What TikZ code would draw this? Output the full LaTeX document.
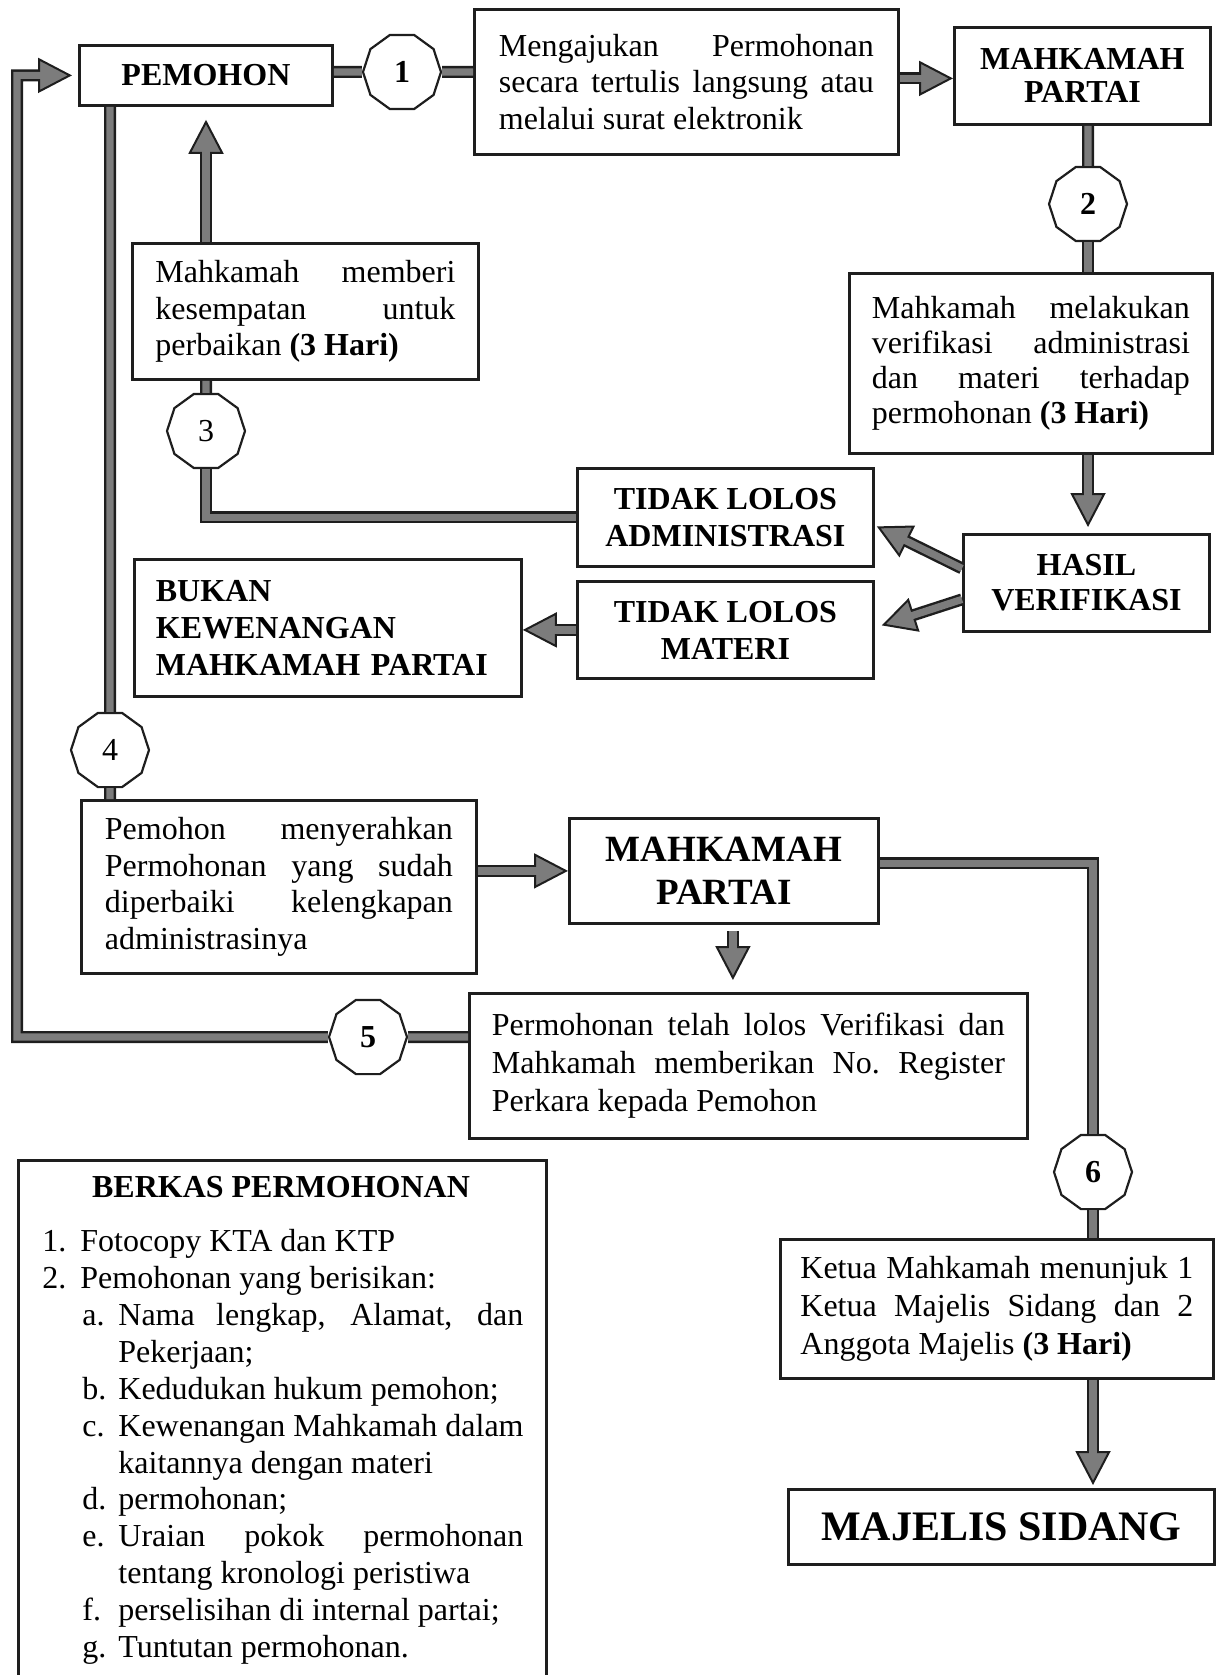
\documentclass[tikz,border=0pt]{standalone}
\usepackage{fontspec}
\setmainfont{Liberation Serif}
\usepackage{tikz}
\usetikzlibrary{shapes.geometric,arrows.meta}

\definecolor{ink}{HTML}{1E1E1E}
\definecolor{barfill}{HTML}{7C7C7C}
\tolerance=10000
\hbadness=10000
\hyphenpenalty=10000

\tikzset{
  box/.style={draw=ink, line width=1.4pt, fill=white, inner sep=0pt, anchor=north west},
  txt/.style={font=\fontsize{16}{18.4}\selectfont, align=justify},
  head/.style={font=\fontsize{16}{17}\selectfont\bfseries, align=center},
  num/.style={regular polygon, regular polygon sides=10, minimum size=39pt, inner sep=0pt,
    draw=ink, line width=1.1pt, fill=white, font=\fontsize{16}{16}\selectfont},
  bar/.style={draw=ink, line width=6pt, line join=miter,
    postaction={draw=barfill, line width=3.6pt}},
  arr/.style={draw=ink, line width=6pt, line join=miter,
    -{Triangle[length=17pt, width=17.5pt, line width=1pt, fill=barfill]},
    postaction={draw=barfill, line width=3.6pt, -, shorten >=15.5pt}},
}

\begin{document}
\begin{tikzpicture}[x=0.5pt, y=-0.5pt]
  \useasboundingbox (0,0) rectangle (1216,1675);
  \clip (0,0) rectangle (1216,1675);

  % boxes
  \node[box, head, minimum width=126.5pt, minimum height=30pt] (pemohon) at (78,44) {PEMOHON};
  \node[box, txt, text width=187.5pt, inner xsep=12.25pt, minimum height=72.5pt] (ajukan) at (473,8)
    {Mengajukan Permohonan\linebreak secara tertulis langsung atau\linebreak melalui surat elektronik};
  \node[box, head, minimum width=128pt, minimum height=48.5pt, font=\fontsize{16}{16.5}\selectfont\bfseries] (mahk1) at (953,26) {MAHKAMAH\\PARTAI};
  \node[box, txt, text width=159pt, inner xsep=11.25pt, minimum height=90pt, font=\fontsize{16}{17.6}\selectfont] (verif) at (848,272)
    {Mahkamah melakukan\linebreak verifikasi administrasi\linebreak dan materi terhadap\linebreak permohonan \textbf{(3 Hari)}};
  \node[box, head, minimum width=123pt, minimum height=48.5pt, font=\fontsize{16}{17.5}\selectfont\bfseries] (hasil) at (962,533) {HASIL\\VERIFIKASI};
  \node[box, head, minimum width=148pt, minimum height=49pt, font=\fontsize{16}{18.5}\selectfont\bfseries] (admin) at (576,467) {TIDAK LOLOS\\ADMINISTRASI};
  \node[box, head, minimum width=148pt, minimum height=48.5pt, font=\fontsize{16}{18.5}\selectfont\bfseries] (materi) at (576,580) {TIDAK LOLOS\\MATERI};
  \node[box, head, align=left, text width=172pt, inner xsep=10.75pt, minimum height=68.5pt, font=\fontsize{16}{18.7}\selectfont\bfseries] (bukan) at (133,558)
    {BUKAN\\KEWENANGAN\\MAHKAMAH PARTAI};
  \node[box, txt, text width=150pt, inner xsep=11.5pt, minimum height=68pt] (memberi) at (131,242)
    {Mahkamah memberi\linebreak kesempatan untuk\linebreak perbaikan \textbf{(3 Hari)}};
  \node[box, txt, text width=174pt, inner xsep=11.75pt, minimum height=86.5pt] (serah) at (80,799)
    {Pemohon menyerahkan\linebreak Permohonan yang sudah\linebreak diperbaiki kelengkapan\linebreak administrasinya};
  \node[box, head, minimum width=154.5pt, minimum height=52.5pt, font=\fontsize{18.5}{21.5}\selectfont\bfseries] (mahk2) at (568,817) {MAHKAMAH\\PARTAI};
  \node[box, txt, text width=256.5pt, inner xsep=11.25pt, minimum height=72.5pt, font=\fontsize{16}{19}\selectfont] (telah) at (468,992)
    {Permohonan telah lolos Verifikasi dan\linebreak Mahkamah memberikan No.\ Register\linebreak Perkara kepada Pemohon};
  \node[box, txt, text width=196.5pt, inner xsep=10pt, minimum height=69.5pt, font=\fontsize{16}{19.2}\selectfont] (ketua) at (779,1238)
    {Ketua Mahkamah menunjuk 1\linebreak Ketua Majelis Sidang dan 2\linebreak Anggota Majelis \textbf{(3 Hari)}};
  \node[box, head, minimum width=213pt, minimum height=37.5pt, font=\fontsize{21}{21}\selectfont\bfseries] (majelis) at (787,1488) {MAJELIS SIDANG};

  % berkas permohonan
  \node[box, minimum width=264pt, minimum height=300pt] (berkas) at (17,1159) {};
  \node[head] (berkastitle) at (281,1187) {BERKAS PERMOHONAN};
  \node[anchor=north west, inner sep=0pt, align=left, font=\fontsize{16}{18.45}\selectfont] (berkaslist) at (42,1229) {%
    \makebox[19pt][l]{1.}Fotocopy KTA dan KTP\\
    \makebox[19pt][l]{2.}Pemohonan yang berisikan:\\
    \hspace*{20pt}\makebox[18pt][l]{a.}\makebox[202.5pt][s]{Nama lengkap, Alamat, dan}\\
    \hspace*{38pt}Pekerjaan;\\
    \hspace*{20pt}\makebox[18pt][l]{b.}Kedudukan hukum pemohon;\\
    \hspace*{20pt}\makebox[18pt][l]{c.}Kewenangan Mahkamah dalam\\
    \hspace*{38pt}kaitannya dengan materi\\
    \hspace*{20pt}\makebox[18pt][l]{d.}permohonan;\\
    \hspace*{20pt}\makebox[18pt][l]{e.}\makebox[202.5pt][s]{Uraian pokok permohonan}\\
    \hspace*{38pt}tentang kronologi peristiwa\\
    \hspace*{20pt}\makebox[18pt][l]{f.}perselisihan di internal partai;\\
    \hspace*{20pt}\makebox[18pt][l]{g.}Tuntutan permohonan.};

  % step numbers
  \node[num] (c1) at (402,72) {\textbf{1}};
  \node[num] (c2) at (1088,204) {\textbf{2}};
  \node[num] (c3) at (206,431) {3};
  \node[num] (c4) at (110,750) {4};
  \node[num] (c5) at (368,1037) {\textbf{5}};
  \node[num] (c6) at (1093,1172) {\textbf{6}};
  \coordinate (loopx) at (17,1037);

  % connectors
  \draw[bar] (pemohon.east |- c1) -- (c1);
  \draw[bar] (c1) -- (c1 -| ajukan.west);
  \draw[arr] ([yshift=1.75pt]ajukan.east) -- ([yshift=1.75pt]ajukan.east -| mahk1.west);
  \draw[bar] (mahk1.south -| c2) -- (c2);
  \draw[bar] (c2) -- (c2 |- verif.north);
  \draw[arr] (c2 |- verif.south) -- ([yshift=3pt]c2 |- hasil.north);
  \draw[arr] ([yshift=7.25pt]hasil.west) -- ([xshift=1pt,yshift=-4.5pt]admin.east);
  \draw[arr] ([yshift=-8.25pt]hasil.west) -- ([xshift=3.5pt,yshift=2.25pt]materi.east);
  \draw[arr] (materi.west) -- (materi.west -| bukan.east);
  \draw[bar] (admin.west) -| (c3);
  \draw[bar] (c3) -- (c3 |- memberi.south);
  \draw[arr] (c3 |- memberi.north) -- ([yshift=-6.5pt]c3 |- pemohon.south);
  \draw[bar] (pemohon.south -| c4) -- (c4);
  \draw[bar] (c4) -- (c4 |- serah.north);
  \draw[arr] (serah.east |- mahk2.west) -- (mahk2.west);
  \draw[arr] ([xshift=4.5pt,yshift=-3pt]mahk2.south) -- ([xshift=4.5pt,yshift=6pt]mahk2.south |- telah.north);
  \draw[bar] ([yshift=3.75pt]mahk2.east) -| (c6);
  \draw[bar] (c6) -- (c6 |- ketua.north);
  \draw[arr] (c6 |- ketua.south) -- ([yshift=1.5pt]c6 |- majelis.north);
  \draw[bar] (telah.west |- c5) -- (c5);
  \draw[arr] (c5) -- (loopx) |- ([xshift=-3pt]pemohon.west);
\end{tikzpicture}
\end{document}
